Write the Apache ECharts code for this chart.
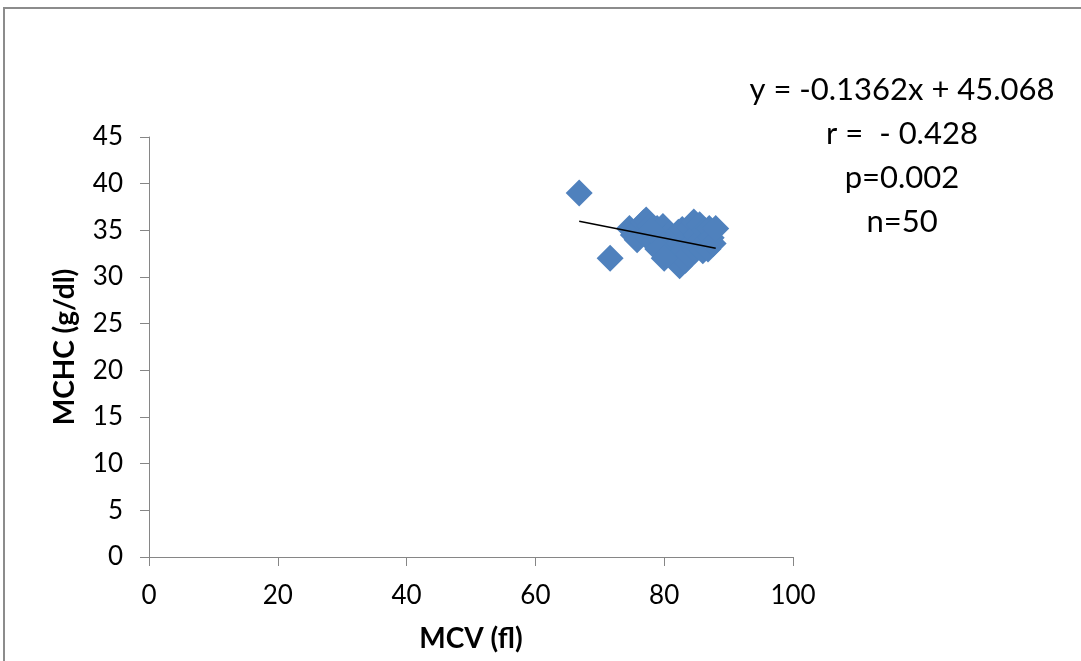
<!DOCTYPE html>
<html>
<head>
<meta charset="utf-8">
<script src="https://cdn.jsdelivr.net/npm/echarts@6/dist/echarts.min.js"></script>
<style>
  html, body { margin: 0; padding: 0; background: #fff; }
  #chart { width: 1081px; height: 661px; }
</style>
</head>
<body>
<div id="chart"></div>
<script>
// MCV (fl) values
const mcv = [
  66.8, 71.6,
  74.6, 75.2, 75.8, 76.3, 76.8, 77.2, 77.5, 77.8, 78.2, 78.5,
  78.9, 79.3, 79.6, 79.8, 80.2, 80.5, 80.8, 81.0, 81.3, 81.6,
  81.9, 82.2, 82.4, 82.6, 82.8, 83.0, 83.3, 83.5, 83.8, 84.0,
  84.3, 84.6, 84.8, 85.0, 85.3, 85.5, 85.8, 86.0, 86.3, 86.5,
  86.8, 87.0, 87.3, 87.6, 88.0, 79.0, 80.0, 78.0
];
// MCHC (g/dl) values, same order
const mchc = [
  39.0, 32.0,
  35.2, 34.5, 34.0, 35.3, 35.8, 36.1, 34.2, 35.5, 34.6, 33.8,
  35.2, 34.8, 33.5, 35.4, 34.1, 33.2, 34.6, 32.8, 33.9, 32.2,
  33.4, 34.8, 31.2, 32.5, 35.1, 33.0, 31.8, 34.2, 32.4, 35.3,
  33.6, 35.9, 32.9, 34.5, 33.3, 35.6, 34.0, 32.8, 35.0, 33.8,
  33.0, 35.2, 34.2, 33.6, 35.2, 33.0, 32.0, 35.0
];
const slope = -0.1362;
const intercept = 45.068;
const statLines = ['y = -0.1362x + 45.068', 'r =  - 0.428', 'p=0.002', 'n=50'];

const points = mcv.map((x, i) => [x, mchc[i]]);
const xMin = Math.min(...mcv);
const xMax = Math.max(...mcv);
const trend = [[xMin, slope * xMin + intercept], [xMax, slope * xMax + intercept]];

const font = 'Lato, "Liberation Sans", sans-serif';
const chart = echarts.init(document.getElementById('chart'));

// stats text, one centred line each
const statText = statLines.map((t, i) => ({
  type: 'text',
  x: 902, y: 90 + i * 44,
  style: {
    text: t, fontFamily: font, fontSize: 31,
    fill: '#000', textAlign: 'center', textVerticalAlign: 'middle'
  }
}));

chart.setOption({
  animation: false,
  backgroundColor: '#fff',
  grid: { left: 149, right: 288, top: 137, bottom: 104 },
  xAxis: {
    type: 'value', min: 0, max: 100, interval: 20,
    name: 'MCV (fl)', nameLocation: 'middle', nameGap: 68,
    nameTextStyle: { fontFamily: font, fontSize: 28, fontWeight: 'bold', color: '#000' },
    axisLine: { show: true, lineStyle: { color: '#868686', width: 1 } },
    axisTick: { show: true, length: 9, lineStyle: { color: '#868686' } },
    axisLabel: { fontFamily: font, fontSize: 26, color: '#000', margin: 26 },
    splitLine: { show: false }
  },
  yAxis: {
    type: 'value', min: 0, max: 45, interval: 5,
    name: 'MCHC (g/dl)', nameLocation: 'middle', nameGap: 70, nameRotate: 90,
    nameTextStyle: { fontFamily: font, fontSize: 28, fontWeight: 'bold', color: '#000' },
    axisLine: { show: true, lineStyle: { color: '#868686', width: 1 } },
    axisTick: { show: true, length: 9, lineStyle: { color: '#868686' } },
    axisLabel: { fontFamily: font, fontSize: 26, color: '#000', margin: 26 },
    splitLine: { show: false }
  },
  series: [
    {
      type: 'scatter',
      data: points,
      symbol: 'diamond',
      symbolSize: 27,
      itemStyle: { color: '#4F81BD', opacity: 1 }
    },
    {
      type: 'line',
      data: trend,
      symbol: 'none',
      lineStyle: { color: '#000', width: 1.5 },
      z: 3
    }
  ],
  graphic: [
    {
      type: 'rect',
      shape: { x: 4, y: 8, width: 1200, height: 800 },
      style: { fill: 'none', stroke: '#8c8c8c', lineWidth: 2 },
      silent: true
    }
  ].concat(statText)
});
</script>
</body>
</html>
